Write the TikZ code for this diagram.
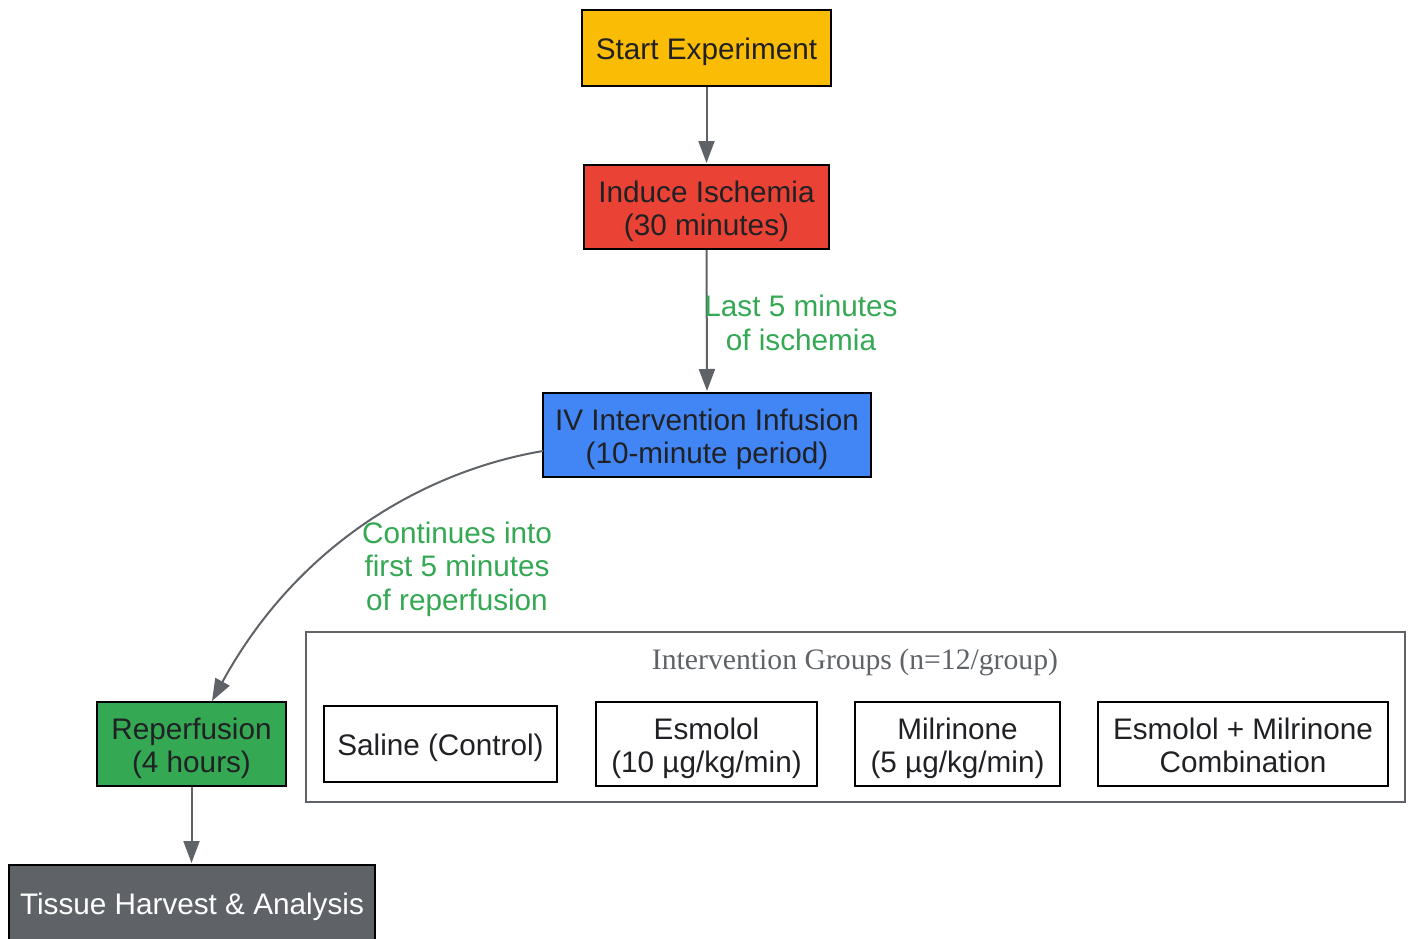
\documentclass[tikz,border=0pt]{standalone}
\usepackage{fontspec}
\setmainfont{Liberation Sans}
\newfontfamily\clusterfont{Liberation Serif}
\usetikzlibrary{arrows.meta}
\definecolor{gyellow}{HTML}{FBBC05}
\definecolor{gred}{HTML}{EA4335}
\definecolor{gblue}{HTML}{4285F4}
\definecolor{ggreen}{HTML}{34A853}
\definecolor{ggray}{HTML}{5F6368}
\definecolor{gtext}{HTML}{202124}
\tikzset{
  box/.style={draw=black, line width=2pt, inner sep=0pt},
  grp/.style={box, fill=white},
  txt/.style={inner sep=0pt, align=center, text=gtext, yshift=-4pt,
    font=\fontsize{29.7}{33}\selectfont},
  conn/.style={draw=ggray, line width=2pt, -{Triangle[length=22pt,width=16pt]}},
  elabel/.style={text=ggreen, align=center, inner sep=0pt, font=\fontsize{29.7}{33.5}\selectfont},
}
\begin{document}
\begin{tikzpicture}[x=1pt,y=-1pt]
\useasboundingbox (0,0) rectangle (1410,938);
\begin{scope}
\clip (0,0) rectangle (1410,938);
% cluster
\draw[draw=ggray, line width=2pt] (306,632) rectangle (1405,802);
\node[text=ggray, inner sep=0pt, font=\clusterfont\fontsize{29.7}{33}\selectfont] (cl) at (855,662) {Intervention Groups (n=12/group)};

\node[box, fill=gyellow, minimum width=249pt, minimum height=76pt] (start) at (706.5,48) {};
\node[txt] (startT) at (start) {Start Experiment};
\node[box, fill=gred, minimum width=245pt, minimum height=84pt] (isch) at (706.5,207) {};
\node[txt] (ischT) at (isch) {Induce Ischemia\\(30 minutes)};
\node[box, fill=gblue, minimum width=328pt, minimum height=84pt] (iv) at (707,435) {};
\node[txt] (ivT) at (iv) {IV Intervention Infusion\\(10-minute period)};
\node[box, fill=ggreen, minimum width=189pt, minimum height=84pt] (rep) at (191.5,744) {};
\node[txt] (repT) at (rep) {Reperfusion\\(4 hours)};
\node[box, fill=ggray, minimum width=366pt, minimum height=76pt] (tis) at (192,903) {};
\node[txt, text=white] (tisT) at (tis) {Tissue Harvest \& Analysis};

\node[grp, minimum width=233pt, minimum height=76pt] (sal) at (440.5,744) {};
\node[txt] (salT) at (sal) {Saline (Control)};
\node[grp, minimum width=221pt, minimum height=84pt] (esm) at (706.5,744) {};
\node[txt] (esmT) at (esm) {Esmolol\\(10 µg/kg/min)};
\node[grp, minimum width=205pt, minimum height=84pt] (mil) at (957.5,744) {};
\node[txt] (milT) at (mil) {Milrinone\\(5 µg/kg/min)};
\node[grp, minimum width=290pt, minimum height=84pt] (comb) at (1243,744) {};
\node[txt, yshift=3pt] (combT) at (comb) {Esmolol + Milrinone\\Combination};

\draw[conn] (start.south) -- (isch.south |- 0,163);
\draw[conn] (isch.south) -- (707,391);
\node[elabel] (l1) at (801,323) {Last 5 minutes\\of ischemia};

\coordinate (ivl) at (543,451);
\draw[conn] (ivl) .. controls (430,470) and (300,540) .. (212,701);
\node[elabel] (l2) at (457,569) {Continues into\\first 5 minutes\\of reperfusion};

\draw[conn] (rep.south) -- (191.5,863);
\end{scope}
\end{tikzpicture}
\end{document}
